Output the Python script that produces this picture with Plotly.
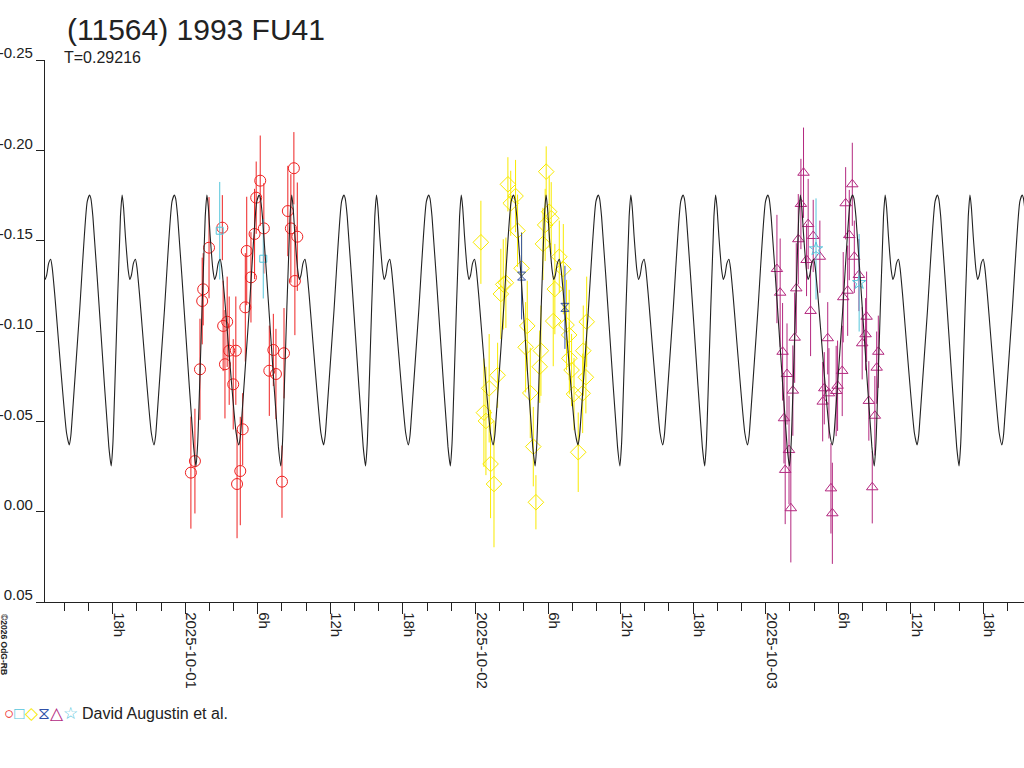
import plotly.graph_objects as go
import pandas as pd

TITLE = "(11564) 1993 FU41"
SUBTITLE = "T=0.29216"
PERIOD_DAYS = 0.29216
CURVE_EPOCH = "2025-10-01 11:26:48"   # time of the shallow minimum
# one period of the model light curve (phase, magnitude)
CURVE_PHASE = [0.000, 0.018, 0.035, 0.120, 0.211, 0.239, 0.254, 0.278, 0.370, 0.466,
               0.494, 0.514, 0.533, 0.603, 0.623, 0.639, 0.662, 0.694, 0.713, 0.733,
               0.756, 0.780, 0.799, 0.827, 0.968]
CURVE_MAG = [-0.0369, -0.0420, -0.0526, -0.1101, -0.1716, -0.1753, -0.1734, -0.1633, -0.1010, -0.0360,
             -0.0253, -0.0378, -0.0637, -0.1633, -0.1753, -0.1688, -0.1522, -0.1338, -0.1286, -0.1310,
             -0.1374, -0.1397, -0.1347, -0.1208, -0.0434]

# red circles
RED_T = ["2025-10-01 00:28", "2025-10-01 00:48", "2025-10-01 01:13", "2025-10-01 01:24", "2025-10-01 01:29",
         "2025-10-01 01:58", "2025-10-01 03:04", "2025-10-01 03:08", "2025-10-01 03:28", "2025-10-01 03:17",
         "2025-10-01 03:38", "2025-10-01 04:11", "2025-10-01 03:58", "2025-10-01 04:45", "2025-10-01 04:33",
         "2025-10-01 04:17", "2025-10-01 04:58", "2025-10-01 05:26", "2025-10-01 05:05", "2025-10-01 05:44",
         "2025-10-01 05:52", "2025-10-01 06:12", "2025-10-01 06:30", "2025-10-01 07:17", "2025-10-01 06:57",
         "2025-10-01 07:30", "2025-10-01 08:10", "2025-10-01 08:00", "2025-10-01 08:29", "2025-10-01 08:44",
         "2025-10-01 09:16", "2025-10-01 08:59", "2025-10-01 09:04"]
RED_M = [-0.0216, -0.0280, -0.0788, -0.1166, -0.1231, -0.1461, -0.1572, -0.1028, -0.1051, -0.0816,
         -0.0891, -0.0891, -0.0705, -0.0456, -0.0225, -0.0153, -0.1131, -0.1297, -0.1443, -0.1537,
         -0.1738, -0.1832, -0.1568, -0.0895, -0.0780, -0.0762, -0.0877, -0.0166, -0.1664, -0.1568,
         -0.1522, -0.1901, -0.1277]
RED_E = [0.031, 0.029, 0.028, 0.024, 0.020, 0.028, 0.018, 0.025, 0.025, 0.030,
         0.030, 0.030, 0.025, 0.020, 0.030, 0.030, 0.030, 0.025, 0.030, 0.025,
         0.020, 0.025, 0.025, 0.020, 0.025, 0.025, 0.025, 0.020, 0.025, 0.030,
         0.030, 0.020, 0.030]

# cyan squares
SQ_T = ["2025-10-01 02:51", "2025-10-01 06:27"]
SQ_M = [-0.1555, -0.1400]
SQ_E = [0.027, 0.022]

# yellow diamonds
YEL_T = ["2025-10-02 00:27", "2025-10-02 02:41", "2025-10-02 03:19", "2025-10-02 02:55", "2025-10-02 03:29",
         "2025-10-02 02:18", "2025-10-02 02:31", "2025-10-02 02:06", "2025-10-02 01:50", "2025-10-02 01:08",
         "2025-10-02 00:42", "2025-10-02 00:52", "2025-10-02 01:15", "2025-10-02 01:32", "2025-10-02 05:51",
         "2025-10-02 06:06", "2025-10-02 06:16", "2025-10-02 05:46", "2025-10-02 05:35", "2025-10-02 03:49",
         "2025-10-02 04:17", "2025-10-02 04:09", "2025-10-02 05:25", "2025-10-02 05:19", "2025-10-02 04:32",
         "2025-10-02 04:47", "2025-10-02 05:00", "2025-10-02 06:56", "2025-10-02 07:16", "2025-10-02 06:34",
         "2025-10-02 06:26", "2025-10-02 07:32", "2025-10-02 07:45", "2025-10-02 09:12", "2025-10-02 08:55",
         "2025-10-02 07:46", "2025-10-02 07:57", "2025-10-02 09:08", "2025-10-02 08:09", "2025-10-02 08:52",
         "2025-10-02 08:30"]
YEL_M = [-0.1491, -0.1812, -0.1747, -0.1707, -0.1555, -0.1258, -0.1267, -0.1205, -0.0755, -0.0683,
         -0.0548, -0.0502, -0.0264, -0.0153, -0.1882, -0.1660, -0.1624, -0.1587, -0.1482, -0.1347,
         -0.1028, -0.0910, -0.0891, -0.0802, -0.0657, -0.0360, -0.0052, -0.1411, -0.1342, -0.1232,
         -0.1055, -0.1033, -0.0978, -0.1051, -0.0891, -0.0849, -0.0784, -0.0744, -0.0651, -0.0655,
         -0.0329]
YEL_E = [0.023, 0.015, 0.020, 0.018, 0.020, 0.025, 0.025, 0.025, 0.018, 0.030,
         0.030, 0.030, 0.030, 0.035, 0.014, 0.020, 0.020, 0.020, 0.020, 0.020,
         0.025, 0.025, 0.025, 0.020, 0.025, 0.022, 0.015, 0.020, 0.025, 0.025,
         0.025, 0.025, 0.025, 0.025, 0.025, 0.020, 0.020, 0.020, 0.020, 0.022,
         0.022]

# blue hourglasses
HG_T = ["2025-10-02 03:49", "2025-10-02 07:24"]
HG_M = [-0.1304, -0.1131]
HG_E = [0.024, 0.023]

# magenta triangles
MAG_T = ["2025-10-03 00:56", "2025-10-03 01:12", "2025-10-03 01:24", "2025-10-03 01:46", "2025-10-03 01:31",
         "2025-10-03 01:56", "2025-10-03 01:37", "2025-10-03 02:05", "2025-10-03 02:15", "2025-10-03 02:24",
         "2025-10-03 02:32", "2025-10-03 02:42", "2025-10-03 02:55", "2025-10-03 03:08", "2025-10-03 03:31",
         "2025-10-03 03:23", "2025-10-03 03:56", "2025-10-03 03:43", "2025-10-03 04:29", "2025-10-03 05:08",
         "2025-10-03 04:51", "2025-10-03 04:43", "2025-10-03 07:10", "2025-10-03 06:37", "2025-10-03 06:55",
         "2025-10-03 07:20", "2025-10-03 07:43", "2025-10-03 06:47", "2025-10-03 06:25", "2025-10-03 06:20",
         "2025-10-03 05:57", "2025-10-03 05:14", "2025-10-03 05:50", "2025-10-03 05:24", "2025-10-03 05:31",
         "2025-10-03 08:21", "2025-10-03 08:16", "2025-10-03 07:59", "2025-10-03 09:19", "2025-10-03 09:11",
         "2025-10-03 08:32", "2025-10-03 09:02", "2025-10-03 08:49"]
MAG_M = [-0.1343, -0.1212, -0.0885, -0.0762, -0.0517, -0.0341, -0.0231, -0.0019, -0.0670, -0.0963,
         -0.1236, -0.1508, -0.1703, -0.1876, -0.1592, -0.1393, -0.1526, -0.1111, -0.1411, -0.0960,
         -0.0683, -0.0609, -0.1812, -0.1707, -0.1531, -0.1411, -0.1310, -0.1223, -0.1187, -0.0779,
         -0.0697, -0.0655, -0.0668, -0.0129, 0.0009, -0.1079, -0.0982, -0.0932, -0.0885, -0.0797,
         -0.0613, -0.0531, -0.0135]
MAG_E = [0.030, 0.030, 0.027, 0.028, 0.025, 0.030, 0.030, 0.030, 0.025, 0.025,
         0.025, 0.025, 0.025, 0.025, 0.025, 0.020, 0.020, 0.025, 0.020, 0.020,
         0.020, 0.022, 0.023, 0.020, 0.025, 0.020, 0.020, 0.025, 0.025, 0.025,
         0.025, 0.025, 0.025, 0.025, 0.028, 0.025, 0.020, 0.020, 0.020, 0.020,
         0.022, 0.022, 0.020]

# cyan stars
STAR_T = ["2025-10-03 04:10", "2025-10-03 07:44"]
STAR_M = [-0.1454, -0.1267]
STAR_E = [0.028, 0.027]

X_RANGE = ["2025-09-30 12:24", "2025-10-03 21:22"]
Y_RANGE = [0.05, -0.25]
Y_TICKS = [-0.25, -0.20, -0.15, -0.10, -0.05, 0.00, 0.05]
Y_LABELS = ["-0.25", "-0.20", "-0.15", "-0.10", "-0.05", "0.00", "0.05"]
X_TICKS = ["2025-09-30 18:00", "2025-10-01 00:00", "2025-10-01 06:00", "2025-10-01 12:00", "2025-10-01 18:00",
           "2025-10-02 00:00", "2025-10-02 06:00", "2025-10-02 12:00", "2025-10-02 18:00",
           "2025-10-03 00:00", "2025-10-03 06:00", "2025-10-03 12:00", "2025-10-03 18:00"]
X_LABELS = ["18h", "2025-10-01", "6h", "12h", "18h", "2025-10-02", "6h", "12h", "18h",
            "2025-10-03", "6h", "12h", "18h"]
LEGEND_TEXT = "David Augustin et al."
COPYRIGHT = "©2026 OdG-RB"

C_RED = "#ee2222"
C_CYAN = "#55c6dc"
C_YEL = "#f8ea00"
C_BLUE = "#3050a8"
C_MAG = "#b3287f"
C_TXT = "#222222"
FONT = "Liberation Sans, Arial, sans-serif"

# model curve: repeat the one-period template over the whole time span
epoch = pd.Timestamp(CURVE_EPOCH)
period = pd.Timedelta(days=PERIOD_DAYS)
curve_t, curve_m = [], []
for k in range(-4, 10):
    for ph, m in zip(CURVE_PHASE, CURVE_MAG):
        curve_t.append(epoch + (k + ph) * period)
        curve_m.append(m)

fig = go.Figure()


def add_series(t, m, e, color, symbol, size):
    fig.add_trace(go.Scatter(
        x=pd.to_datetime(t), y=m, mode="markers",
        marker=dict(symbol=symbol, size=size, color=color, line=dict(color=color, width=1)),
        error_y=dict(type="data", array=e, visible=True, color=color, thickness=1, width=0),
        showlegend=False, hoverinfo="skip"))


add_series(RED_T, RED_M, RED_E, C_RED, "circle-open", 11)
add_series(SQ_T, SQ_M, SQ_E, C_CYAN, "square-open", 7)
add_series(YEL_T, YEL_M, YEL_E, C_YEL, "diamond-open", 12)
add_series(HG_T, HG_M, HG_E, C_BLUE, "hourglass-open", 8)
add_series(MAG_T, MAG_M, MAG_E, C_MAG, "triangle-up-open", 10)
add_series(STAR_T, STAR_M, STAR_E, C_CYAN, "star-open", 10)

fig.add_trace(go.Scatter(
    x=curve_t, y=curve_m, mode="lines",
    line=dict(color="#222222", width=1.1, shape="spline", smoothing=0.6),
    showlegend=False, hoverinfo="skip"))

fig.update_layout(
    width=1024, height=768,
    margin=dict(l=45, r=0, t=60, b=166),
    paper_bgcolor="white", plot_bgcolor="white",
    font=dict(family=FONT, color=C_TXT, size=15),
    title=dict(text=TITLE, x=67 / 1024, xanchor="left", xref="container",
               y=1 - 29 / 768, yanchor="middle", yref="container",
               font=dict(size=30, color=C_TXT, family=FONT)),
    xaxis=dict(
        type="date", range=X_RANGE, showgrid=False, zeroline=False, automargin=False,
        showline=True, linecolor="#222222", linewidth=1.3,
        tickmode="array", tickvals=X_TICKS, ticktext=X_LABELS,
        ticks="outside", ticklen=11, tickwidth=1.3, tickcolor="#222222",
        tickangle=90, ticklabelshift=6, ticklabelstandoff=-5,
        tickfont=dict(size=15, color=C_TXT, family=FONT),
        minor=dict(dtick=2 * 3600 * 1000, ticks="outside", ticklen=8, tickwidth=1.3,
                   tickcolor="#222222", showgrid=False),
    ),
    yaxis=dict(
        range=Y_RANGE, showgrid=False, zeroline=False, automargin=False,
        showline=True, linecolor="#222222", linewidth=1.3,
        tickmode="array", tickvals=Y_TICKS, ticktext=Y_LABELS,
        ticks="outside", ticklen=8, tickwidth=1.3, tickcolor="#222222",
        ticklabelshift=7,
        tickfont=dict(size=15, color=C_TXT, family=FONT),
    ),
)

legend_html = (f"<span style='color:{C_RED};font-size:17px'>○</span>"
               f"<span style='color:{C_CYAN};font-size:17px'>□</span>"
               f"<span style='color:{C_YEL};font-size:17px'>◇</span>"
               f"<span style='color:{C_BLUE};font-size:17px'>⧖</span>"
               f"<span style='color:{C_MAG};font-size:17px'>△</span>"
               f"<span style='color:{C_CYAN};font-size:17px'>☆</span> "
               f"<span style='color:{C_TXT}'>{LEGEND_TEXT}</span>")

fig.add_annotation(text=SUBTITLE, xref="paper", yref="paper", x=0, y=1, xshift=17, yshift=3,
                   xanchor="left", yanchor="middle", showarrow=False,
                   font=dict(size=16, color=C_TXT, family=FONT))
fig.add_annotation(text=legend_html, xref="paper", yref="paper", x=0, y=0, xshift=-43, yshift=-111,
                   xanchor="left", yanchor="middle", showarrow=False,
                   font=dict(size=16, color=C_TXT, family=FONT))
fig.add_annotation(text=f"<b>{COPYRIGHT}</b>", xref="paper", yref="paper", x=0, y=0,
                   xshift=-41, yshift=-42, xanchor="center", yanchor="middle",
                   textangle=90, showarrow=False,
                   font=dict(size=8.5, color=C_TXT, family=FONT))

# the page's default 8px body margin would push the figure off its 1024x768 frame
fig.write_html("out.html", config={"displayModeBar": False},
               post_script="document.body.style.margin='0';")
